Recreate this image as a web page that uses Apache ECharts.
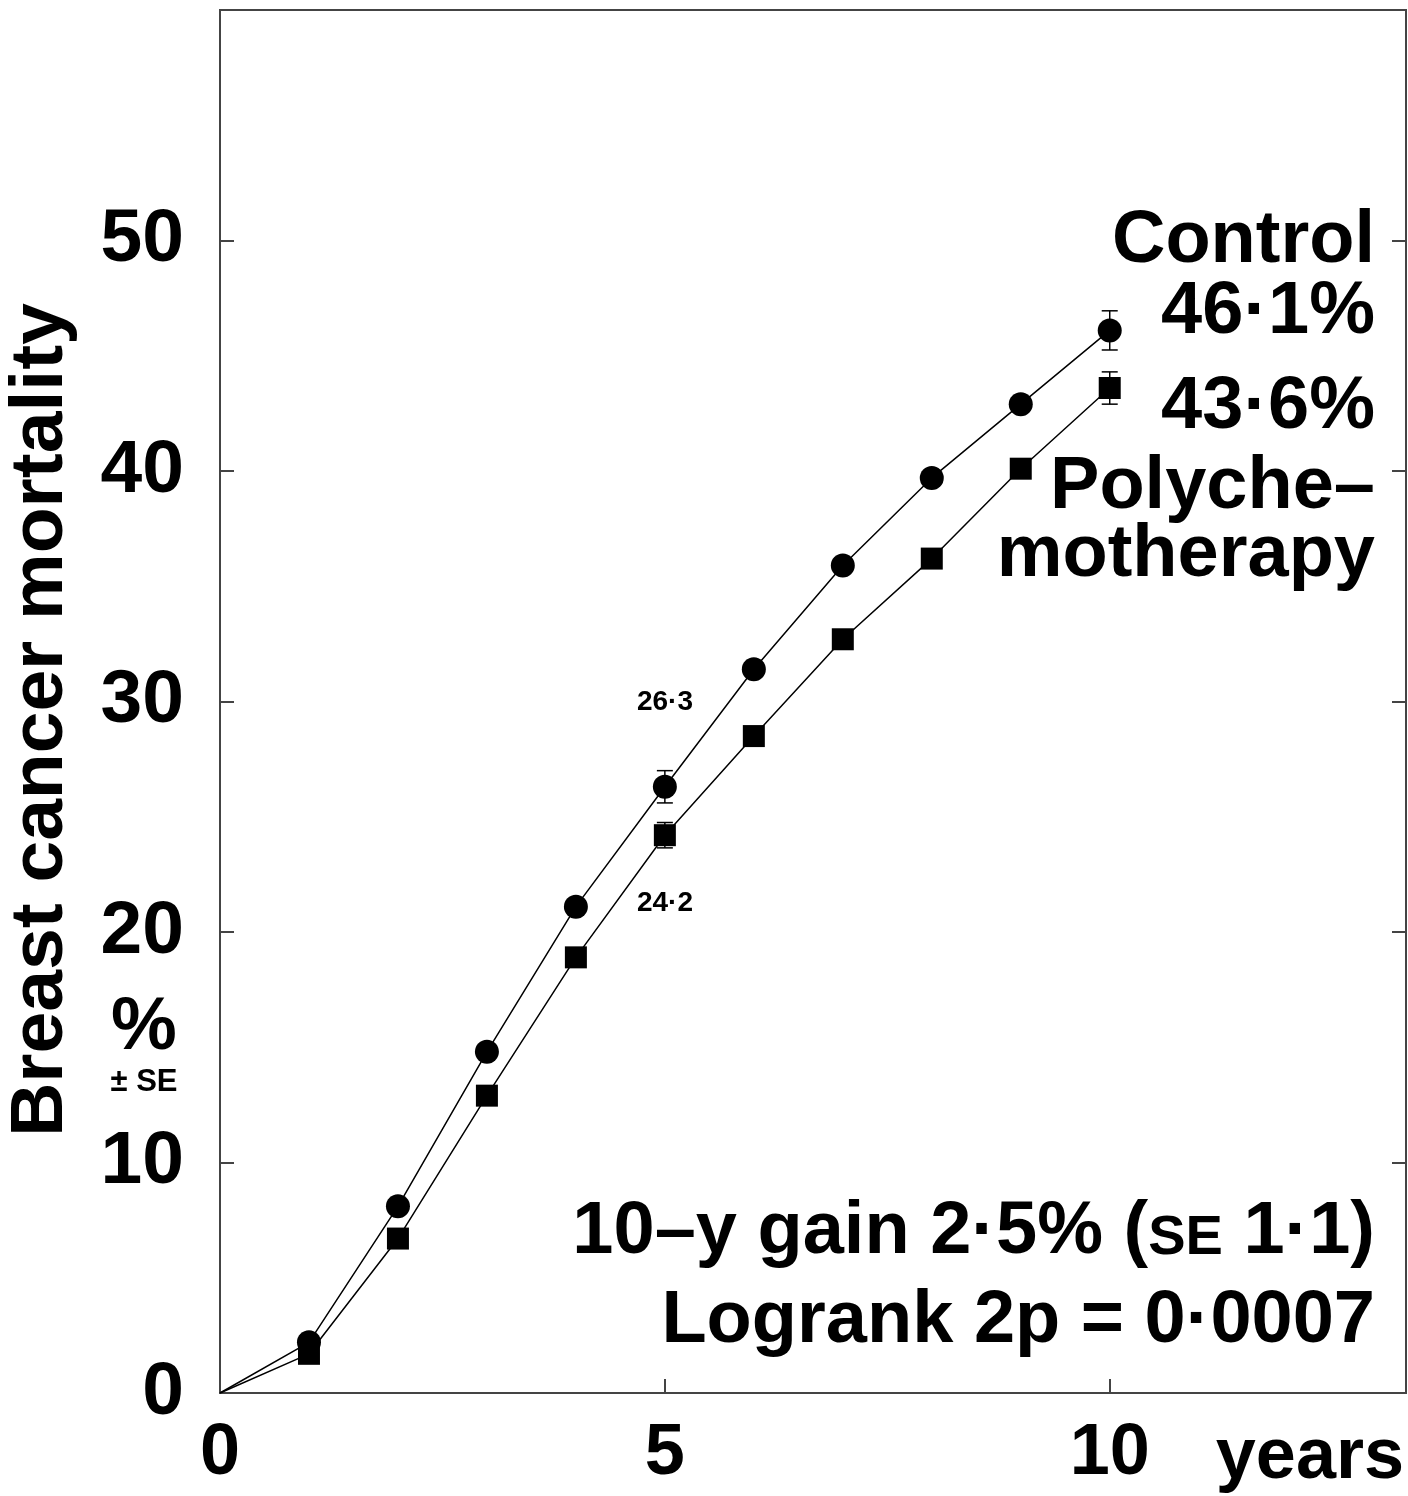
<!DOCTYPE html>
<html>
<head>
<meta charset="utf-8">
<script src="https://cdn.jsdelivr.net/npm/echarts@6/dist/echarts.min.js"></script>
<style>
  html, body { margin: 0; padding: 0; background: #fff; }
  #chart { width: 1408px; height: 1496px; }
</style>
</head>
<body>
<div id="chart"></div>
<script>
// years from start, origin included so both curves begin at 0
const years = [0, 1, 2, 3, 4, 5, 6, 7, 8, 9, 10]
const control = [0, 2.2, 8.1, 14.8, 21.1, 26.3, 31.4, 35.9, 39.7, 42.9, 46.1]
const polychemo = [0, 1.7, 6.7, 12.9, 18.9, 24.2, 28.5, 32.7, 36.2, 40.1, 43.6]

// standard errors shown only at 5 and 10 years
const seYears = [5, 10]
const controlSE = [0.7, 0.85]
const polychemoSE = [0.55, 0.7]

const yTicks = [0, 10, 20, 30, 40, 50]
const xTicks = [0, 5, 10]

const FONT = '"Liberation Sans", Arial, sans-serif'
const AXIS_COLOR = '#444'

function pairs(xs, ys) {
  return xs.map((x, i) => [x, ys[i]])
}

function errorData(xs, ys, se) {
  return xs.map((x, i) => [x, ys[years.indexOf(x)], se[i]])
}

function renderErrorBar(params, api) {
  const x = api.value(0)
  const y = api.value(1)
  const se = api.value(2)
  const top = api.coord([x, y + se])
  const bottom = api.coord([x, y - se])
  const half = 8
  const style = { stroke: '#000', lineWidth: 1.5 }
  return {
    type: 'group',
    children: [
      { type: 'line', shape: { x1: top[0], y1: top[1], x2: bottom[0], y2: bottom[1] }, style },
      { type: 'line', shape: { x1: top[0] - half, y1: top[1], x2: top[0] + half, y2: top[1] }, style },
      { type: 'line', shape: { x1: bottom[0] - half, y1: bottom[1], x2: bottom[0] + half, y2: bottom[1] }, style }
    ]
  }
}

function label(text, x, y, size, align = 'right', extra = {}) {
  return {
    type: 'text',
    x,
    y,
    ...extra,
    style: {
      text,
      fontFamily: FONT,
      fontWeight: 'bold',
      fontSize: size,
      fill: '#000',
      align,
      textAlign: align,
      verticalAlign: 'middle',
      textVerticalAlign: 'middle'
    }
  }
}

const chart = echarts.init(document.getElementById('chart'))

chart.setOption({
  animation: false,
  backgroundColor: '#fff',
  grid: {
    left: 220,
    top: 10,
    right: 2,
    bottom: 103,
    show: true,
    borderWidth: 2,
    borderColor: AXIS_COLOR,
    backgroundColor: 'transparent'
  },
  xAxis: {
    type: 'value',
    min: 0,
    max: 13.33,
    interval: 5,
    axisLine: { show: false },
    splitLine: { show: false },
    axisTick: { show: true, inside: true, length: 14, lineStyle: { color: AXIS_COLOR, width: 2 } },
    axisLabel: {
      margin: 25,
      fontFamily: FONT,
      fontWeight: 'bold',
      fontSize: 72,
      color: '#000',
      showMaxLabel: false,
      formatter: v => (xTicks.includes(v) ? String(v) : '')
    }
  },
  yAxis: [
    {
      type: 'value',
      min: 0,
      max: 60,
      interval: 10,
      axisLine: { show: false },
      splitLine: { show: false },
      axisTick: { show: true, inside: true, length: 14, lineStyle: { color: AXIS_COLOR, width: 2 } },
      axisLabel: {
        margin: 36,
        fontFamily: FONT,
        fontWeight: 'bold',
        fontSize: 75,
        color: '#000',
        formatter: v => (yTicks.includes(v) ? String(v) : '')
      }
    },
    {
      type: 'value',
      position: 'right',
      min: 0,
      max: 60,
      interval: 10,
      axisLine: { show: false },
      splitLine: { show: false },
      axisTick: { show: true, inside: true, length: 14, lineStyle: { color: AXIS_COLOR, width: 2 } },
      axisLabel: { show: false }
    }
  ],
  series: [
    {
      name: 'Control',
      type: 'line',
      data: pairs(years, control),
      symbol: 'circle',
      symbolSize: (v, p) => (p.dataIndex === 0 ? 0 : 24),
      itemStyle: { color: '#000' },
      lineStyle: { color: '#000', width: 1.5 },
      z: 3
    },
    {
      name: 'Polychemotherapy',
      type: 'line',
      data: pairs(years, polychemo),
      symbol: 'rect',
      symbolSize: (v, p) => (p.dataIndex === 0 ? 0 : 22),
      itemStyle: { color: '#000' },
      lineStyle: { color: '#000', width: 1.5 },
      z: 3
    },
    {
      type: 'custom',
      renderItem: renderErrorBar,
      data: errorData(seYears, control, controlSE),
      z: 2
    },
    {
      type: 'custom',
      renderItem: renderErrorBar,
      data: errorData(seYears, polychemo, polychemoSE),
      z: 2
    }
  ],
  graphic: [
    label('Breast cancer mortality', 41, 720, 75, 'center', { rotation: Math.PI / 2 }),
    label('%', 144, 1029, 74, 'center'),
    label('± SE', 144, 1082, 31, 'center'),
    label('years', 1404, 1458, 72),
    label('Control', 1375, 242, 74),
    label('46·1%', 1375, 313, 74),
    label('43·6%', 1375, 408, 74),
    label('Polyche–', 1375, 488, 74),
    label('motherapy', 1375, 556, 74),
    label('26·3', 665, 702, 28, 'center'),
    label('24·2', 665, 903, 28, 'center'),
    {
      type: 'text',
      x: 1375,
      y: 1229,
      style: {
        text: '{a|10–y gain 2·5% (}{b|SE}{a| 1·1)}',
        align: 'right',
        textAlign: 'right',
        verticalAlign: 'middle',
        textVerticalAlign: 'middle',
        rich: {
          a: { fontFamily: FONT, fontWeight: 'bold', fontSize: 74, fill: '#000', color: '#000', lineHeight: 82, verticalAlign: 'bottom' },
          b: { fontFamily: FONT, fontWeight: 'bold', fontSize: 56, fill: '#000', color: '#000', lineHeight: 82, verticalAlign: 'bottom', padding: [0, 0, 3, 0] }
        }
      }
    },
    label('Logrank 2p = 0·0007', 1375, 1322, 74)
  ]
})
</script>
</body>
</html>
